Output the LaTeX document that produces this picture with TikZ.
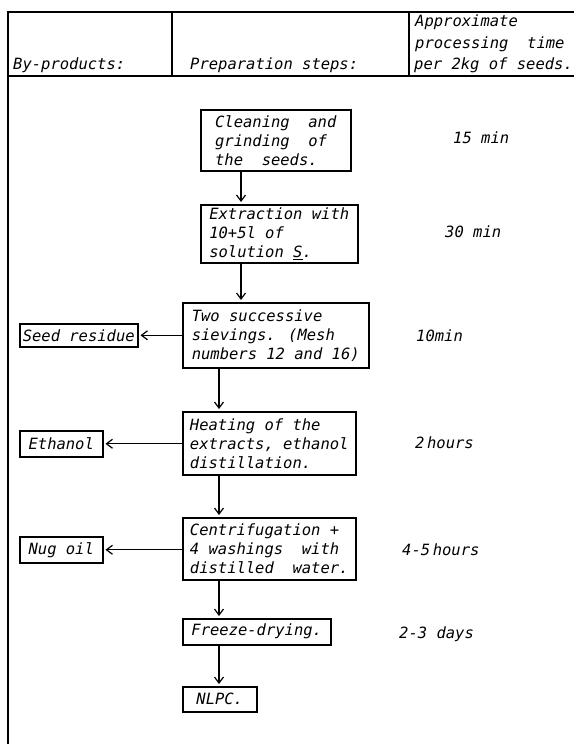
\documentclass[tikz,border=0pt]{standalone}
\usepackage{fontspec}
\setmainfont{DejaVu Sans Mono}
\usetikzlibrary{arrows.meta}

\begin{document}
\begin{tikzpicture}[x=1pt, y=-1pt,
    every node/.style={font=\fontsize{15.5}{19}\selectfont\itshape},
    stepbox/.style={draw, line width=1.5pt, anchor=north west, align=left, inner xsep=2pt, inner ysep=2pt},
    sidebox/.style={draw, line width=1.5pt, anchor=north west, inner sep=0pt},
    timelabel/.style={anchor=base west, inner sep=0pt},
    headlabel/.style={anchor=base west, inner sep=0pt},
    flow/.style={->, line width=1.2pt, shorten >=2pt, >={Straight Barb[length=6pt, width=9pt]}}]

        % size of the scanned page
        \useasboundingbox (0,0) rectangle (574,744);
        \clip (0,0) rectangle (574,744);

        % table frame and header row
        \draw[line width=1.5pt] (8,744) -- (8,12) -- (574,12);
        \draw[line width=1.5pt] (8,76) -- (574,76);
        \draw[line width=1.5pt] (172,12) -- (172,76);
        \draw[line width=1.5pt] (409,12) -- (409,76);

        \node[headlabel] (hbyprod) at (13,69) {By-products:};
        \node[headlabel] (hsteps) at (190,69) {Preparation steps:};
        \node[headlabel] (htimeA) at (415,26) {Approximate};
        \node[headlabel] (htimeB) at (415,48) {processing\ \ time};
        \node[headlabel] (htimeC) at (414,69) {per 2kg of seeds.};

        % the preparation steps
        \node[stepbox, minimum width=150pt, minimum height=61pt] (clean) at (200,109)
            {Cleaning\ \ and\\ grinding\ \ of\\ the\ \ seeds.};
        \node[stepbox, minimum width=157pt, minimum height=58pt] (extract) at (200,204)
            {Extraction with\\ 10+5l of\\ solution \underline{S}.};
        \node[stepbox, minimum width=186pt, minimum height=65pt] (sieve) at (182,302)
            {Two successive\\ sievings. (Mesh\\ numbers 12 and 16)};
        \node[stepbox, minimum width=173pt, minimum height=63pt] (heat) at (182,411)
            {Heating of the\\ extracts, ethanol\\ distillation.};
        \node[stepbox, minimum width=173pt, minimum height=62pt] (centri) at (182,517)
            {Centrifugation +\\ 4 washings\ \ with\\ distilled\ \ water.};
        \node[stepbox, minimum width=148pt, minimum height=26pt] (freeze) at (182,618)
            {Freeze-drying.};
        \node[stepbox, minimum width=74pt, minimum height=25pt] (nlpc) at (182,686)
            {NLPC.};

        % the by-products
        \node[sidebox, minimum width=118pt, minimum height=23pt] (residue) at (19,323) {Seed residue};
        \node[sidebox, minimum width=83pt, minimum height=26pt] (ethanol) at (19,430) {Ethanol};
        \node[sidebox, minimum width=83pt, minimum height=26pt] (nugoil) at (19,536) {Nug oil};

        % processing times
        \node[timelabel] (t1) at (453,143) {15 min};
        \node[timelabel] (t2) at (445,237) {30 min};
        \node[timelabel] (t3) at (416,341) {10min};
        \node[timelabel] (t4) at (415,448) {2\,hours};
        \node[timelabel] (t5) at (402,555) {4-5\,hours};
        \node[timelabel] (t6) at (399,638) {2-3 days};

        % main flow
        \coordinate (upper) at (241,0);
        \coordinate (lower) at (219,0);
        \draw[flow] (clean.south -| upper) -- (extract.north -| upper);
        \draw[flow] (extract.south -| upper) -- (sieve.north -| upper);
        \draw[flow] (sieve.south -| lower) -- (heat.north -| lower);
        \draw[flow] (heat.south -| lower) -- (centri.north -| lower);
        \draw[flow] (centri.south -| lower) -- (freeze.north -| lower);
        \draw[flow] (freeze.south -| lower) -- (nlpc.north -| lower);

        % side products
        \draw[flow] (sieve.west |- residue.east) -- (residue.east);
        \draw[flow] (heat.west |- ethanol.east) -- (ethanol.east);
        \draw[flow] (centri.west |- nugoil.east) -- (nugoil.east);
\end{tikzpicture}
\end{document}
